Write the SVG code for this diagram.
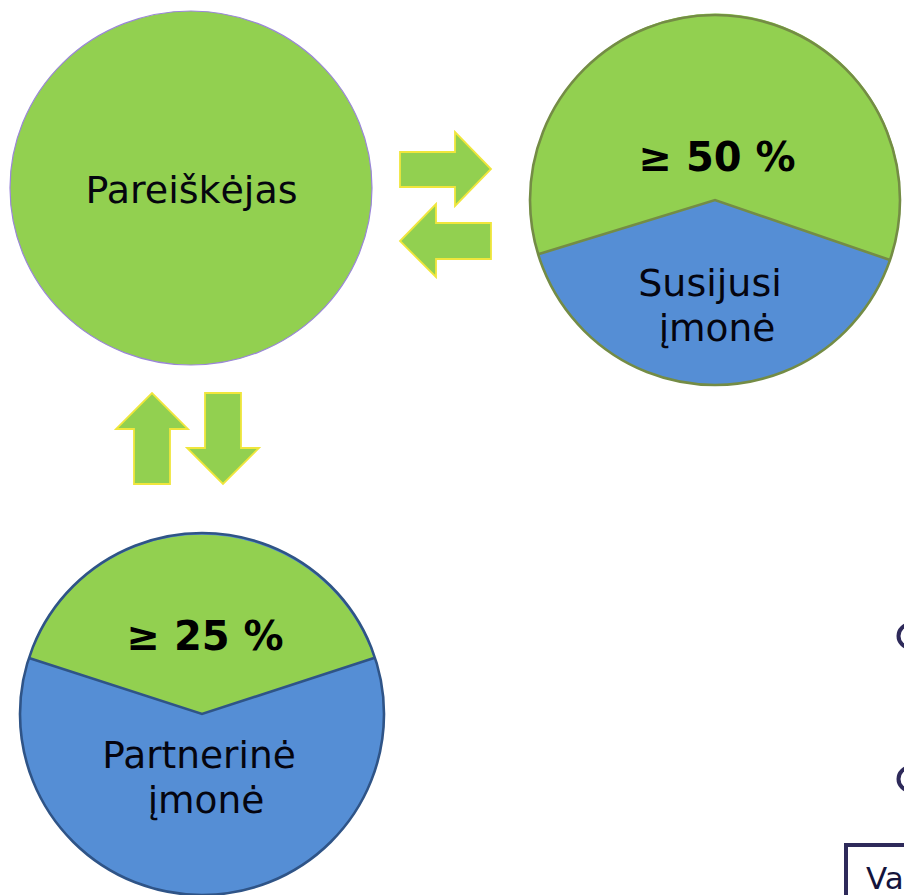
<svg xmlns="http://www.w3.org/2000/svg" width="904" height="895" viewBox="0 0 904 895">
<style>
text{font-family:"DejaVu Sans",Verdana,sans-serif;font-size:38px;fill:#05050f;text-anchor:middle}
.b{font-weight:bold;font-size:40px;fill:#000}
.s{font-size:37.5px}
.g{fill:#92d050}.u{fill:#558ed5}
.ar{fill:#92d050;stroke:#f0e63c;stroke-width:1.8}
</style>
<rect width="904" height="895" fill="#fff"/>
<g id="pareiskejas"><ellipse class="g" cx="191" cy="188" rx="181" ry="177" stroke="#9a86d8" stroke-width="1.2"/><text x="191.500" y="203">Pareiškėjas</text></g>
<g id="susijusi">
<circle class="u" cx="715" cy="200" r="185"/>
<path class="g" d="M539 254A185 185 0 1 1 890 260L715 200Z"/>
<circle cx="715" cy="200" r="185" fill="none" stroke="#748c45" stroke-width="2.600"/>
<path d="M539 254L715 200L890 260" fill="none" stroke="#748c45" stroke-width="2.600"/>
<text class="b" x="717" y="171">≥ 50 %</text><text x="710" y="296">Susijusi</text><text class="s" x="717" y="341">įmonė</text></g>
<g id="partnerine">
<ellipse class="u" cx="202" cy="714" rx="182" ry="181"/>
<path class="g" d="M29 658A182 181 0 0 1 374 658L202 714Z"/>
<ellipse cx="202" cy="714" rx="182" ry="181" fill="none" stroke="#2f5487" stroke-width="2.600"/>
<path d="M29 658L202 714L374 658" fill="none" stroke="#2f5487" stroke-width="2.600"/>
<text class="b" x="205" y="650">≥ 25 %</text><text class="s" x="199" y="768">Partnerinė</text><text class="s" x="206" y="813">įmonė</text></g>
<g id="connectors">
<path class="ar" d="M400 152H455V132L491 169L455 206V187H400Z"/>
<path class="ar" d="M491 223H436V204L400 241L436 277V259H491Z"/>
<path class="ar" d="M134 484V429H116L152 393L188 429H170V484Z"/>
<path class="ar" d="M205 393V448H187L223 484L259 448H241V393Z"/>
</g>
<g id="fragments">
<circle cx="910" cy="636" r="11.500" fill="#fff" stroke="#2e2a5a" stroke-width="4"/>
<circle cx="910" cy="779" r="11.500" fill="#fff" stroke="#2e2a5a" stroke-width="4"/>
<rect x="846" y="845" width="80" height="70" fill="#fff" stroke="#2e2a5a" stroke-width="4"/>
<text x="866" y="889" style="text-anchor:start;font-size:31px;fill:#14143c">Va</text>
</g>
</svg>
